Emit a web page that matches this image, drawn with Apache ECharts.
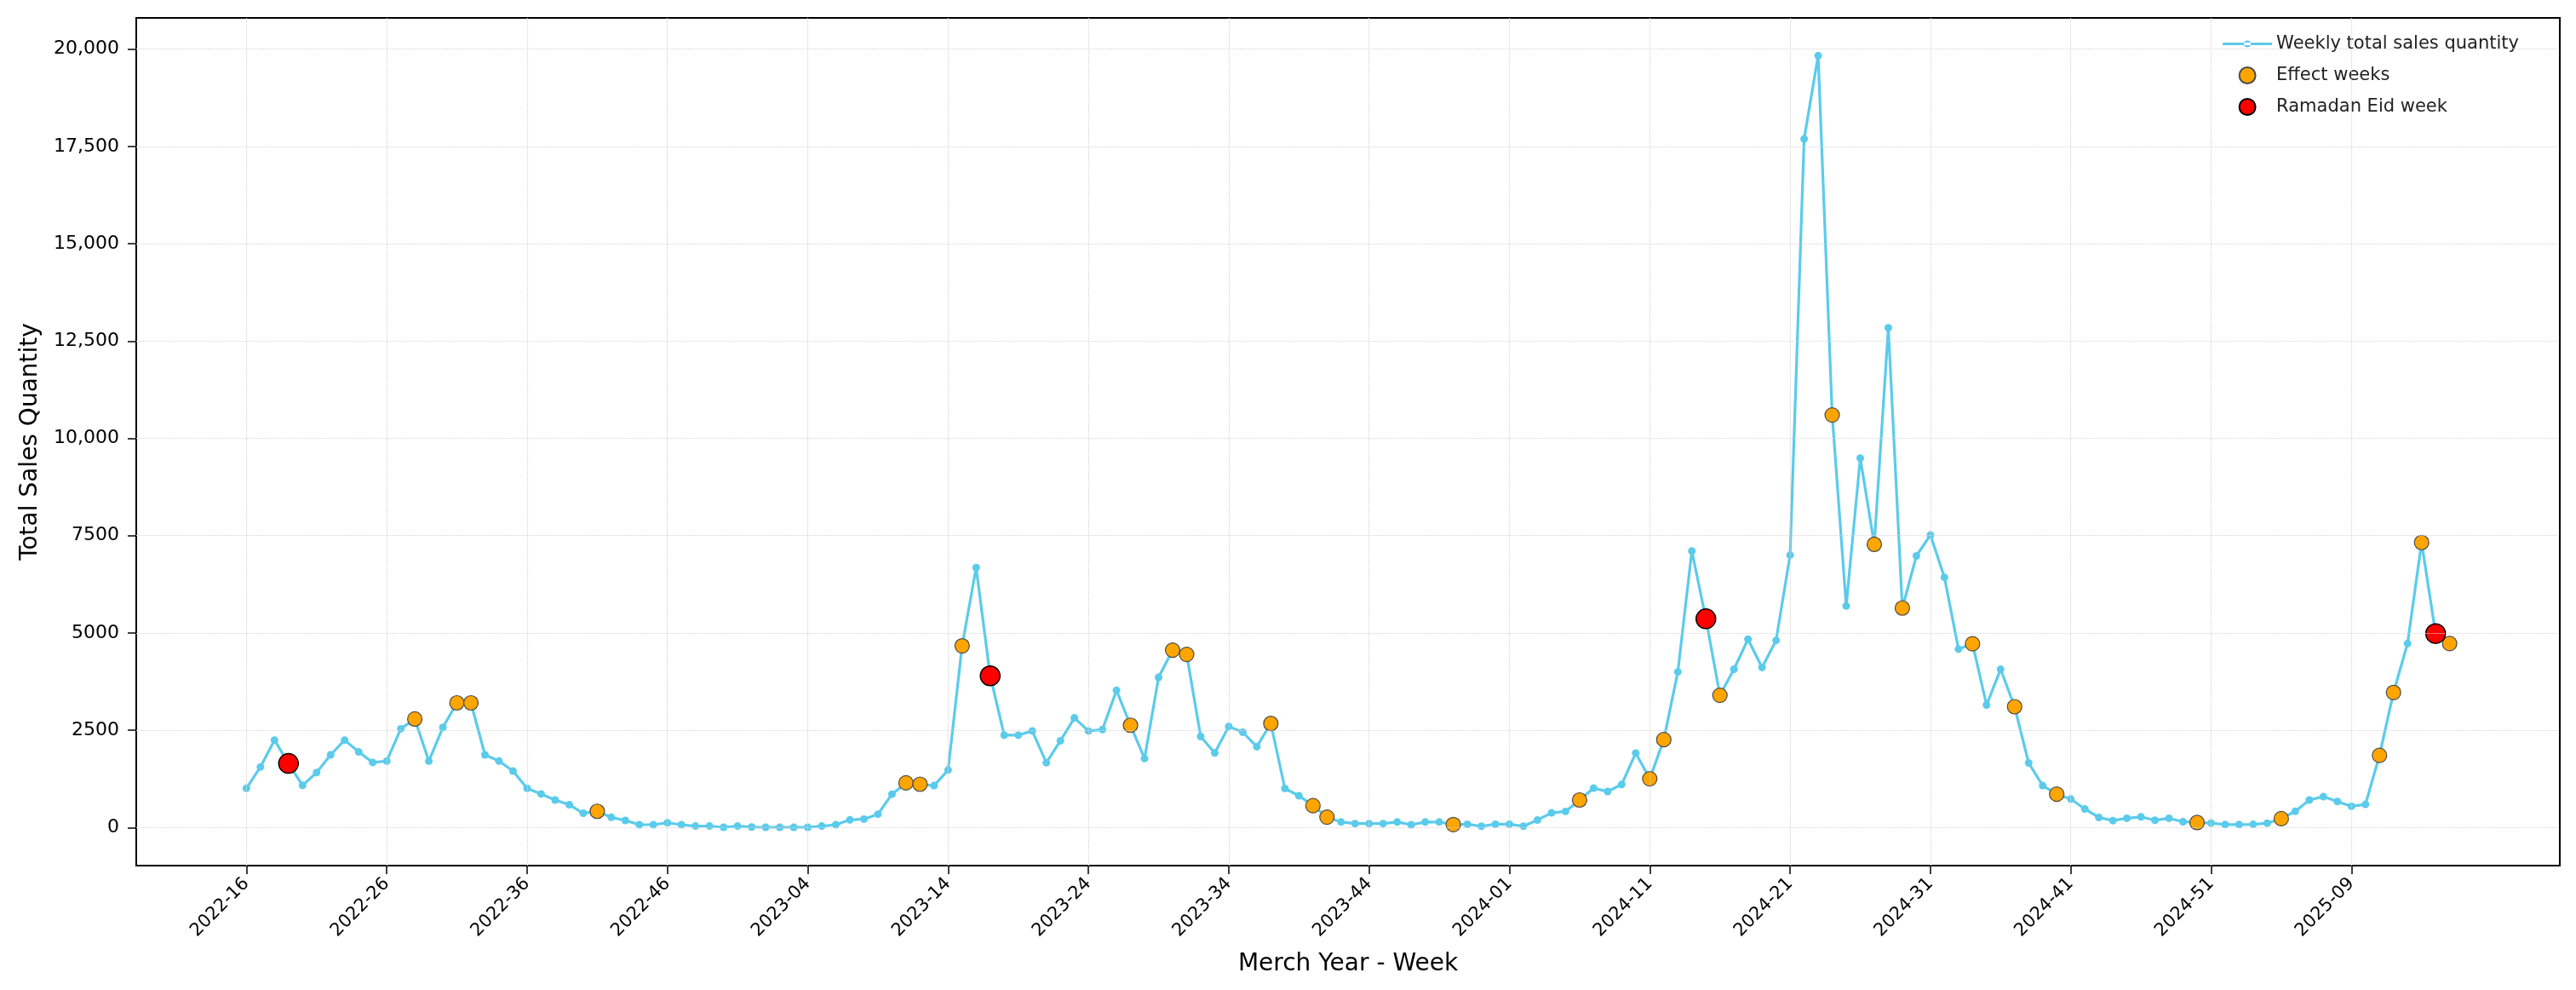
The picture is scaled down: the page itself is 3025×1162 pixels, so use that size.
<!DOCTYPE html>
<html>
<head>
<meta charset="utf-8">
<title>Weekly total sales quantity</title>
<script src="https://cdn.jsdelivr.net/npm/echarts@6.0.0/dist/echarts.min.js"></script>
<style>
  html, body { margin: 0; padding: 0; background: #fff; }
  #main { width: 3025px; height: 1162px; }
</style>
</head>
<body>
<div id="main"></div>
<script>
// x = week index, 0 = 2022-16 (merch year 2023 has 53 weeks)
var tickWeeks = [0, 10, 20, 30, 40, 50, 60, 70, 80, 90, 100, 110, 120, 130, 140, 150];
var tickLabels = ['2022-16', '2022-26', '2022-36', '2022-46', '2023-04', '2023-14', '2023-24', '2023-34',
    '2023-44', '2024-01', '2024-11', '2024-21', '2024-31', '2024-41', '2024-51', '2025-09'];
var yTicks = [0, 2500, 5000, 7500, 10000, 12500, 15000, 17500, 20000];

// weekly total sales quantity, one value per week from index 0
var salesQty = [
    1010, 1560, 2250, 1650, 1085, 1415, 1870, 2250, 1945, 1675,
    1710, 2540, 2790, 1710, 2575, 3205, 3205, 1870, 1710, 1455,
    1010, 865, 710, 590, 370, 420, 265, 185, 75, 75,
    125, 75, 40, 40, 10, 40, 15, 10, 10, 10,
    10, 40, 75, 200, 220, 345, 860, 1150, 1115, 1080,
    1480, 4670, 6680, 3900, 2375, 2375, 2485, 1670, 2230, 2820,
    2485, 2520, 3525, 2630, 1775, 3860, 4560, 4450, 2340, 1920,
    2600, 2450, 2080, 2675, 1005, 820, 565, 270, 145, 105,
    105, 105, 145, 75, 145, 145, 80, 88, 37, 88,
    88, 37, 197, 380, 417, 710, 1015, 930, 1110, 1915,
    1255, 2260, 4000, 7105, 5365, 3400, 4070, 4840, 4115, 4810,
    7000, 17690, 19830, 10600, 5695, 9490, 7276, 12840, 5640, 6980,
    7517, 6430, 4585, 4724, 3150, 4068, 3106, 1662, 1080, 860,
    736, 481, 262, 182, 241, 277, 190, 241, 153, 131,
    117, 80, 80, 85, 115, 230, 420, 709, 797, 673,
    548, 599, 1857, 3472, 4730, 7325, 4985
];

var effectWeeks = [12, 15, 16, 25, 47, 48, 51, 63, 66, 67, 73, 76, 77, 86, 95, 100, 101, 105,
    113, 116, 118, 123, 126, 129, 139, 145, 152, 153, 155, 157];
var eidWeeks = [3, 53, 104, 156];
// effect week past the end of the line
var offLineWeeks = [157];
var offLineQty = [4730];

function qtyAt(w) {
    if (w < salesQty.length) return salesQty[w];
    return offLineQty[offLineWeeks.indexOf(w)];
}

var lineData = salesQty.map(function (v, i) { return [i, v]; });
var effectData = effectWeeks.map(function (w) { return [w, qtyAt(w)]; });
var eidData = eidWeeks.map(function (w) { return [w, qtyAt(w)]; });

var gridLines = tickWeeks.map(function (w) { return {xAxis: w}; })
    .concat(yTicks.map(function (v) { return {yAxis: v}; }));

function fmtY(v) {
    if (v < 10000) return String(v);
    return String(v).replace(/\B(?=(\d{3})+(?!\d))/g, ',');
}

var font = 'DejaVu Sans';
var lineColor = '#5bcbeb';
var chart = echarts.init(document.getElementById('main'));

chart.setOption({
    animation: false,
    backgroundColor: '#fff',
    textStyle: {fontFamily: font},
    grid: {
        left: 160, right: 19, top: 21, bottom: 146,
        show: true, borderColor: '#000', borderWidth: 2, backgroundColor: 'transparent'
    },
    legend: {
        orient: 'vertical',
        right: 62, top: 36,
        itemGap: 16,
        itemWidth: 58, itemHeight: 19,
        textStyle: {fontFamily: font, fontSize: 21, color: '#222'},
        data: [
            // line with a small dot, like the plotted markers
            {name: 'Weekly total sales quantity', icon: 'path://M0,7h58v3h-58z M29,4.5a4,4 0 1,0 0.01,0z'},
            'Effect weeks',
            'Ramadan Eid week'
        ]
    },
    xAxis: {
        type: 'value',
        min: -7.85, max: 164.85,
        splitLine: {show: false},
        axisLine: {show: true, onZero: false, lineStyle: {color: '#000', width: 2}},
        axisTick: {show: true, customValues: tickWeeks, length: 10, lineStyle: {color: '#000', width: 1.5}},
        axisLabel: {
            customValues: tickWeeks,
            rotate: 45, margin: 18,
            fontFamily: font, fontSize: 21, color: '#000',
            formatter: function (v) { return tickLabels[tickWeeks.indexOf(v)]; }
        },
        name: 'Merch Year - Week',
        nameLocation: 'middle', nameGap: 102,
        nameTextStyle: {fontFamily: font, fontSize: 28, color: '#000'}
    },
    yAxis: {
        type: 'value',
        min: -975, max: 20800,
        splitLine: {show: false},
        axisLine: {show: true, onZero: false, lineStyle: {color: '#000', width: 2}},
        axisTick: {show: true, customValues: yTicks, length: 10, lineStyle: {color: '#000', width: 1.5}},
        axisLabel: {
            customValues: yTicks,
            margin: 20,
            fontFamily: font, fontSize: 22, color: '#000',
            formatter: fmtY
        },
        name: 'Total Sales Quantity',
        nameLocation: 'middle', nameGap: 110,
        nameTextStyle: {fontFamily: font, fontSize: 28, color: '#000'}
    },
    series: [
        {
            // grid lines at the tick positions
            type: 'line', name: 'grid', data: [], z: 1, silent: true,
            markLine: {
                silent: true, symbol: 'none', label: {show: false},
                lineStyle: {color: '#d4d4d4', type: 'dotted', width: 1.2},
                data: gridLines
            }
        },
        {
            name: 'Weekly total sales quantity',
            type: 'line', z: 2,
            data: lineData,
            symbol: 'circle', symbolSize: 9,
            lineStyle: {color: lineColor, width: 3.2},
            itemStyle: {color: lineColor}
        },
        {
            name: 'Effect weeks',
            type: 'scatter', z: 3,
            data: effectData,
            symbol: 'circle', symbolSize: 17,
            itemStyle: {color: '#ffa500', borderColor: '#4a4a4a', borderWidth: 1.2, opacity: 1}
        },
        {
            name: 'Ramadan Eid week',
            type: 'scatter', z: 4,
            data: eidData,
            symbol: 'circle', symbolSize: 23,
            itemStyle: {color: '#ff0000', borderColor: '#000', borderWidth: 1.5, opacity: 1}
        }
    ]
});
</script>
</body>
</html>
